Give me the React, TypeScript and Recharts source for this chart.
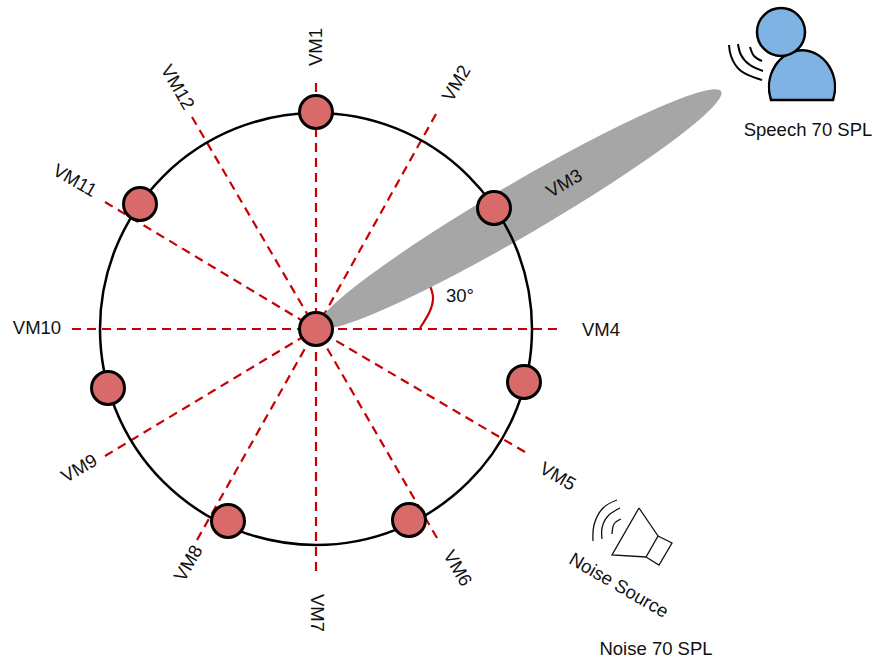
import { ComposedChart, Line, Scatter, XAxis, YAxis } from 'recharts'

const FONT = '"Liberation Sans", Arial, sans-serif'
const RED = '#c80000'

// page pixels are used as the data space, the drawing has no real units
const hub = { x: 316, y: 329 }
const spokeEndX = [316, 436, 524, 557, 525, 437, 316, 197, 105, 72, 105, 192]
const spokeEndY = [83, 114, 205, 329, 452, 538, 571, 540, 456, 329, 202, 117]

const micX = [316, 494, 524, 409, 228, 108, 140, 316]
const micY = [112, 208, 382, 520, 521, 388, 204, 329]

const labelNames = ['VM1', 'VM2', 'VM3', 'VM4', 'VM5', 'VM6', 'VM7', 'VM8', 'VM9', 'VM10', 'VM11', 'VM12', '30°', 'Speech 70 SPL', 'Noise Source', 'Noise 70 SPL']
const labelX = [315, 456, 564, 601, 558, 458, 317, 188, 79, 37, 75, 178, 460, 808, 619, 656]
const labelY = [47, 83, 183, 329, 476, 568, 613, 563, 468, 327, 180, 87, 295, 129, 585, 648]
const labelAngle = [-90, -60, -30, 0, 30, 60, 90, -60, -30, 0, 30, 60, 0, 0, 30, 0]

const angleArc = [{ x: 420, y: 328 }, { x: 433, y: 298 }, { x: 419, y: 268 }]

const speechWaves = [
  [{ x: 729, y: 45 }, { x: 731, y: 56 }, { x: 741, y: 71 }, { x: 762, y: 80 }],
  [{ x: 738, y: 44 }, { x: 741, y: 55 }, { x: 750, y: 65 }, { x: 763, y: 71 }],
  [{ x: 750, y: 47 }, { x: 754, y: 56 }, { x: 762, y: 61 }],
]
const noiseWaves = [
  [{ x: 617, y: 500 }, { x: 603, y: 508 }, { x: 594, y: 525 }, { x: 593, y: 541 }],
  [{ x: 620, y: 508 }, { x: 608, y: 516 }, { x: 602, y: 528 }, { x: 602, y: 539 }],
  [{ x: 621, y: 519 }, { x: 614, y: 524 }, { x: 612, y: 534 }],
]
const hornOutline = [{ x: 639, y: 508 }, { x: 658, y: 536 }, { x: 646, y: 557 }, { x: 612, y: 555 }, { x: 639, y: 508 }]
const boxOutline = [{ x: 658, y: 536 }, { x: 672, y: 543 }, { x: 659, y: 565 }, { x: 646, y: 557 }]

const spokes = spokeEndX.map((x, i) => [{ x, y: spokeEndY[i] }, hub])
const mics = micX.map((x, i) => ({ x, y: micY[i] }))
const labels = labelNames.map((name, i) => ({ name, x: labelX[i], y: labelY[i], angle: labelAngle[i] }))

const Beam = ({ cx, cy }: any) => (
  <ellipse cx={cx} cy={cy} rx={233} ry={26} fill="#a6a6a6" transform={`rotate(-30.3 ${cx} ${cy})`} />
)
const Ring = ({ cx, cy }: any) => <circle cx={cx} cy={cy} r={216} fill="none" stroke="#000" strokeWidth={2.5} />
const Mic = ({ cx, cy }: any) => <circle cx={cx} cy={cy} r={16.5} fill="#d96a6a" stroke="#000" strokeWidth={3} />
const Head = ({ cx, cy }: any) => <circle cx={cx} cy={cy} r={24} fill="#7fb3e3" stroke="#000" strokeWidth={2.5} />
const Body = ({ cx, cy }: any) => (
  <path d={`M${cx - 31} ${cy + 16} A33 37 0 1 1 ${cx + 31} ${cy + 16} Z`} fill="#7fb3e3" stroke="#000" strokeWidth={2.5} />
)
const Label = ({ cx, cy, payload }: any) => (
  <text
    x={cx}
    y={cy}
    textAnchor="middle"
    dominantBaseline="central"
    fontFamily={FONT}
    fontSize={18.5}
    fill="#111"
    transform={`rotate(${payload.angle} ${cx} ${cy})`}
  >
    {payload.name}
  </text>
)

export default function App() {
  return (
    <div style={{ position: 'absolute', left: 0, top: 0 }}>
      <ComposedChart width={875} height={664} margin={{ top: 0, right: 0, bottom: 0, left: 0 }}>
        <XAxis dataKey="x" type="number" domain={[0, 875]} hide />
        <YAxis dataKey="y" type="number" domain={[0, 664]} reversed hide />
        <Scatter data={[{ x: 520, y: 209 }]} dataKey="y" shape={Beam} isAnimationActive={false} />
        <Scatter data={[hub]} dataKey="y" shape={Ring} isAnimationActive={false} />
        {spokes.map((points, i) => (
          <Line key={i} data={points} dataKey="y" stroke={RED} strokeWidth={2.2} strokeDasharray="9 6" dot={false} isAnimationActive={false} />
        ))}
        <Line data={angleArc} dataKey="y" type="natural" stroke={RED} strokeWidth={2.2} dot={false} isAnimationActive={false} />
        <Scatter data={mics} dataKey="y" shape={Mic} isAnimationActive={false} />
        <Scatter data={[{ x: 802, y: 84 }]} dataKey="y" shape={Body} isAnimationActive={false} />
        <Scatter data={[{ x: 781, y: 32 }]} dataKey="y" shape={Head} isAnimationActive={false} />
        {speechWaves.map((points, i) => (
          <Line key={i} data={points} dataKey="y" type="natural" stroke="#000" strokeWidth={2} dot={false} isAnimationActive={false} />
        ))}
        {noiseWaves.map((points, i) => (
          <Line key={i} data={points} dataKey="y" type="natural" stroke="#111" strokeWidth={1.3} dot={false} isAnimationActive={false} />
        ))}
        <Line data={hornOutline} dataKey="y" stroke="#111" strokeWidth={1.3} dot={false} isAnimationActive={false} />
        <Line data={boxOutline} dataKey="y" stroke="#111" strokeWidth={1.3} dot={false} isAnimationActive={false} />
        <Scatter data={labels} dataKey="y" shape={Label} isAnimationActive={false} />
      </ComposedChart>
    </div>
  )
}
